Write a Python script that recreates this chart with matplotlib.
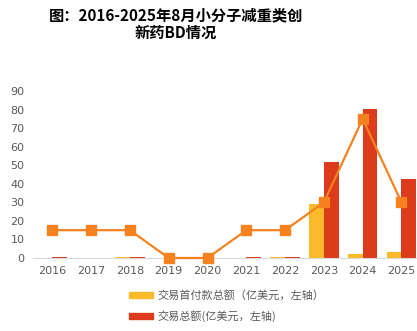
import numpy as np
import matplotlib.pyplot as plt
import matplotlib as mpl

plt.rcParams['font.family'] = ['Noto Sans CJK SC', 'DejaVu Sans']

years = ['2016', '2017', '2018', '2019', '2020', '2021', '2022', '2023', '2024', '2025']
upfront = [0, 0, 0.3, 0, 0, 0, 0.3, 29, 2, 3]          # 交易首付款总额
total = [0.5, 0, 0.5, 0, 0, 0.5, 0.5, 51.5, 80.5, 42.5]  # 交易总额
deals = [15, 15, 15, 0, 0, 15, 15, 30, 75, 30]          # 折线

c_yellow = '#FBBA2A'
c_red = '#DC3B1C'
c_line = '#F5821F'
c_text = '#595959'

fig = plt.figure(figsize=(4.17, 3.31), dpi=100)
ax = fig.add_axes([0.079, 0.2205, 0.921, 0.5045])

x = np.arange(len(years))
w = 0.38
ax.bar(x - w / 2, upfront, width=w, color=c_yellow, zorder=2)
ax.bar(x + w / 2, total, width=w, color=c_red, zorder=2)
ax.plot(x, deals, color=c_line, linewidth=1.6, marker='s', markersize=7.5,
        zorder=3, clip_on=False)

ax.set_ylim(0, 90)
ax.set_yticks(range(0, 91, 10))
ax.set_xlim(-0.5, 9.4)
ax.set_xticks(x)
ax.set_xticklabels(years)
for s in ['top', 'right', 'left']:
    ax.spines[s].set_visible(False)
ax.spines['bottom'].set_color('#D9D9D9')
ax.tick_params(axis='both', length=0, labelsize=8, colors=c_text, labelfontfamily='DejaVu Sans')
ax.tick_params(axis='x', pad=6)
ax.tick_params(axis='y', pad=6)

fig.text(0.422, 0.955, '图：2016-2025年8月小分子减重类创', ha='center', va='center',
         fontsize=11, fontweight='bold', color='black')
fig.text(0.422, 0.902, '新药BD情况', ha='center', va='center',
         fontsize=11, fontweight='bold', color='black')

handles = [mpl.patches.Patch(color=c_yellow), mpl.patches.Patch(color=c_red)]
labels = ['交易首付款总额（亿美元，左轴）', '交易总额(亿美元，左轴)']
fig.legend(handles, labels, loc='center left', bbox_to_anchor=(0.285, 0.075),
           frameon=False, fontsize=8, labelcolor=c_text, handlelength=2.2,
           handleheight=0.5, handletextpad=0.4, labelspacing=0.85)

fig.savefig('out.png', dpi=100)
